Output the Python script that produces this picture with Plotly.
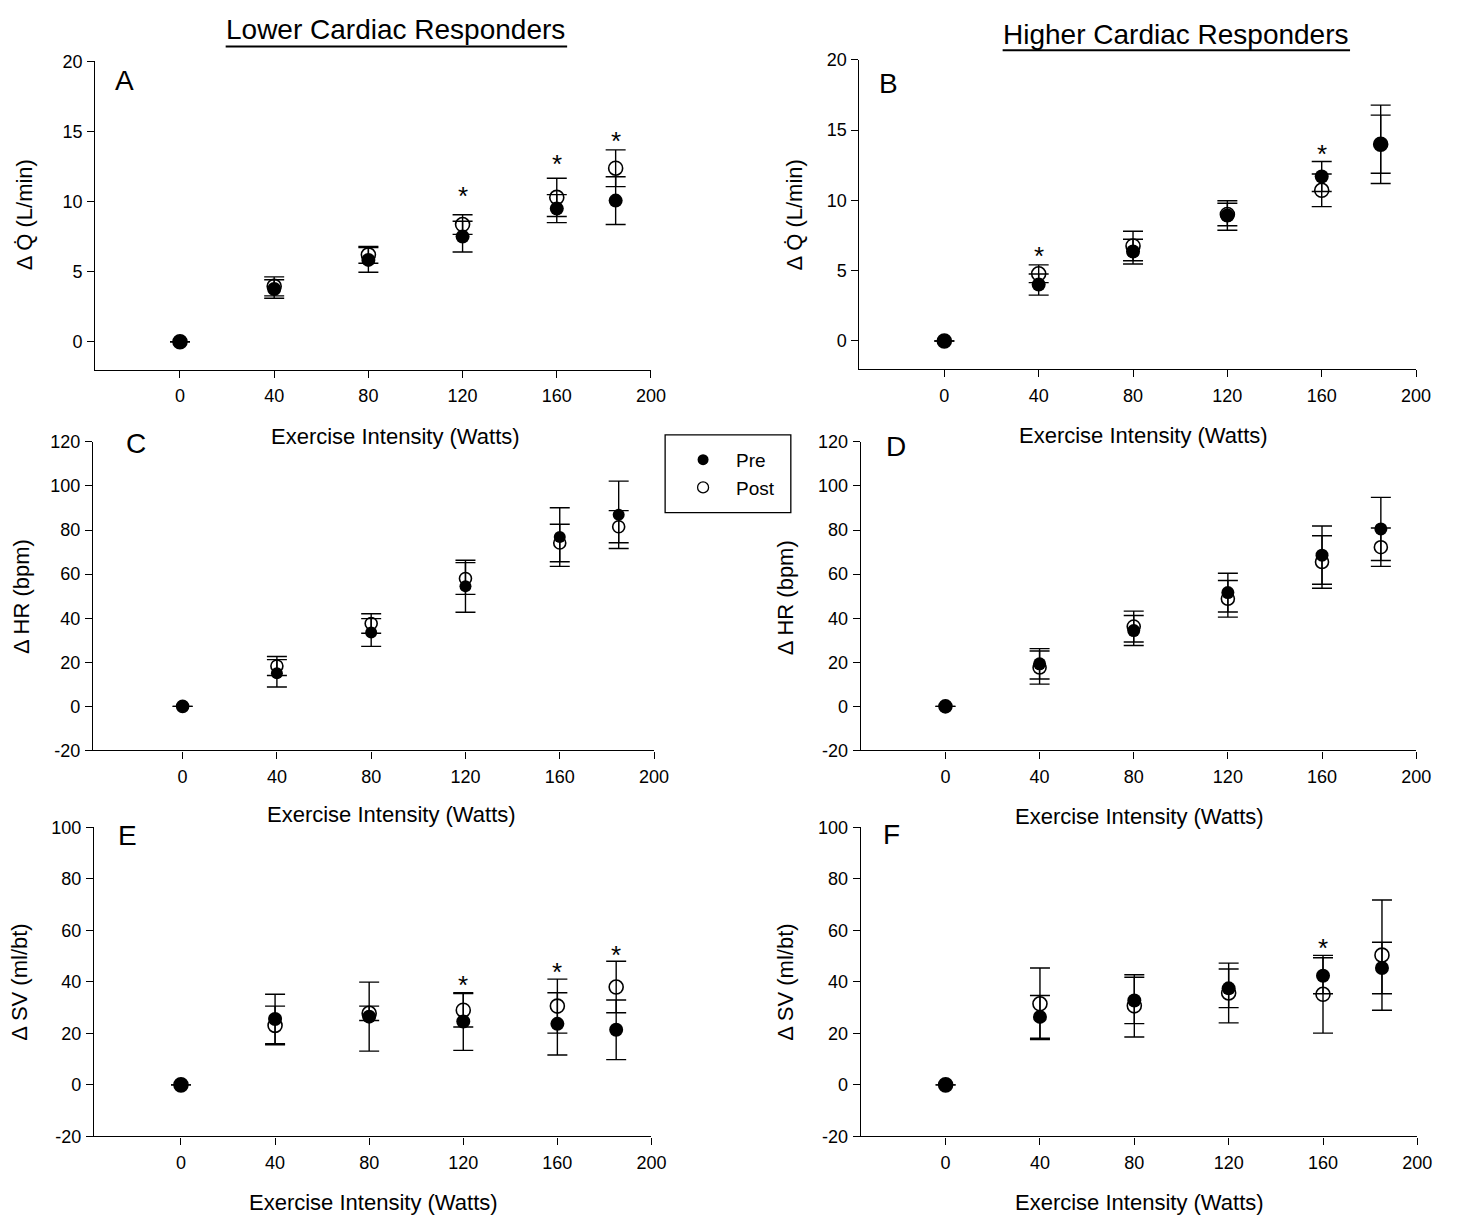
import plotly.graph_objects as go

W, H = 1466, 1228

watts = [0, 40, 80, 120, 160, 185]
x_ticks = [0, 40, 80, 120, 160, 200]

# Panel A - Lower responders, delta Q
qA_pre = [0, 3.76, 5.84, 7.5, 9.5, 10.07]
qA_pre_err = [0, 0.66, 0.88, 1.1, 1.0, 1.7]
qA_post = [0, 3.95, 6.2, 8.36, 10.3, 12.38]
qA_post_err = [0, 0.68, 0.6, 0.7, 1.36, 1.31]

# Panel B - Higher responders, delta Q
qB_pre = [0, 4.01, 6.36, 8.93, 11.7, 13.99]
qB_pre_err = [0, 0.75, 0.88, 1.05, 1.07, 2.79]
qB_post = [0, 4.78, 6.76, 9.0, 10.72, 14.0]
qB_post_err = [0, 0.63, 1.05, 0.8, 1.16, 2.07]

# Panel C - Lower responders, delta HR
hrC_pre = [0, 15.0, 33.5, 54.5, 76.8, 86.9]
hrC_pre_err = [0, 6.2, 6.3, 11.8, 13.3, 15.3]
hrC_post = [0, 18.3, 37.6, 58.0, 74.1, 81.5]
hrC_post_err = [0, 4.3, 4.4, 7.2, 8.5, 7.3]

# Panel D - Higher responders, delta HR
hrD_pre = [0, 19.3, 34.4, 51.6, 68.6, 80.5]
hrD_pre_err = [0, 6.9, 6.8, 8.8, 13.2, 14.3]
hrD_post = [0, 17.6, 36.2, 48.8, 65.5, 72.2]
hrD_post_err = [0, 7.5, 7.0, 8.3, 11.9, 8.7]

# Panel E - Lower responders, delta SV
svE_pre = [0, 25.6, 26.5, 24.6, 23.7, 21.4]
svE_pre_err = [0, 9.6, 13.4, 11.2, 12.1, 11.6]
svE_post = [0, 23.1, 27.8, 29.0, 30.6, 38.0]
svE_post_err = [0, 7.5, 2.8, 6.5, 10.5, 10.0]

# Panel F - Higher responders, delta SV
svF_pre = [0, 26.4, 32.8, 37.5, 42.4, 45.4]
svF_pre_err = [0, 8.3, 9.0, 7.5, 7.0, 10.0]
svF_post = [0, 31.5, 30.7, 35.7, 35.2, 50.4]
svF_post_err = [0, 13.9, 12.1, 11.6, 15.1, 21.4]

# significance asterisks
sigA_x, sigA_y = [120, 160, 185], [10.9, 13.2, 14.8]
sigB_x, sigB_y = [40, 160], [6.53, 13.8]
sigE_x, sigE_y = [120, 160, 185], [41.5, 46.6, 53.2]
sigF_x, sigF_y = [160], [55.8]

q_ticks = [0, 5, 10, 15, 20]
hr_ticks = [-20, 0, 20, 40, 60, 80, 100, 120]
sv_ticks = [-20, 0, 20, 40, 60, 80, 100]

FONT = "Liberation Sans, Arial, sans-serif"


def px(x):
    return x / W


def py(y):
    return 1 - y / H


panels = [
    dict(letter="A", pre=qA_pre, pre_err=qA_pre_err, post=qA_post, post_err=qA_post_err,
         yr=[-2, 20], yt=q_ticks, xr=[-36, 200], box=(96.2, 657.7, 52.3, 365.7), ms=14,
         sig=(sigA_x, sigA_y), ylab="Δ Q̇ (L/min)", ylab_pos=(25, 208),
         xlab_pos=(400, 434), let_pos=(126, 72)),
    dict(letter="B", pre=qB_pre, pre_err=qB_pre_err, post=qB_post, post_err=qB_post_err,
         yr=[-2, 20], yt=q_ticks, xr=[-36, 200], box=(868.3, 1430.7, 50.7, 365.0), ms=14,
         sig=(sigB_x, sigB_y), ylab="Δ Q̇ (L/min)", ylab_pos=(803, 208),
         xlab_pos=(1155, 433), let_pos=(898, 75)),
    dict(letter="C", pre=hrC_pre, pre_err=hrC_pre_err, post=hrC_post, post_err=hrC_post_err,
         yr=[-20, 120], yt=hr_ticks, xr=[-38, 200], box=(94.0, 660.8, 439.0, 752.7), ms=12,
         sig=([], []), ylab="Δ HR (bpm)", ylab_pos=(22, 596),
         xlab_pos=(396, 818), let_pos=(137, 441)),
    dict(letter="D", pre=hrD_pre, pre_err=hrD_pre_err, post=hrD_post, post_err=hrD_post_err,
         yr=[-20, 120], yt=hr_ticks, xr=[-36, 200], box=(869.6, 1430.8, 439.0, 752.7), ms=13,
         sig=([], []), ylab="Δ HR (bpm)", ylab_pos=(793, 597),
         xlab_pos=(1151, 820), let_pos=(905, 444)),
    dict(letter="E", pre=svE_pre, pre_err=svE_pre_err, post=svE_post, post_err=svE_post_err,
         yr=[-20, 100], yt=sv_ticks, xr=[-37, 200], box=(94.9, 658.2, 831.0, 1145.0), ms=14,
         sig=(sigE_x, sigE_y), ylab="Δ SV (ml/bt)", ylab_pos=(20, 988),
         xlab_pos=(377, 1212), let_pos=(129, 839)),
    dict(letter="F", pre=svF_pre, pre_err=svF_pre_err, post=svF_post, post_err=svF_post_err,
         yr=[-20, 100], yt=sv_ticks, xr=[-36, 200], box=(869.6, 1432.0, 831.0, 1145.0), ms=14,
         sig=(sigF_x, sigF_y), ylab="Δ SV (ml/bt)", ylab_pos=(794, 988),
         xlab_pos=(1151, 1212), let_pos=(901, 838)),
]

fig = go.Figure()
annotations = []
shapes = []

for i, p in enumerate(panels):
    n = i + 1
    xa = "x" if n == 1 else f"x{n}"
    ya = "y" if n == 1 else f"y{n}"
    err_style = dict(type="data", symmetric=True, color="black", thickness=1.4, width=10)
    # Post (open circles) first, Pre drawn on top
    fig.add_trace(go.Scatter(
        x=watts, y=p["post"], mode="markers", xaxis=xa, yaxis=ya, showlegend=False,
        marker=dict(symbol="circle-open", size=p["ms"], color="black", line=dict(width=1.6, color="black")),
        error_y=dict(array=p["post_err"], **err_style), cliponaxis=False))
    fig.add_trace(go.Scatter(
        x=watts, y=p["pre"], mode="markers", xaxis=xa, yaxis=ya, showlegend=False,
        marker=dict(symbol="circle", size=p["ms"], color="black"),
        error_y=dict(array=p["pre_err"], **err_style), cliponaxis=False))

    l, r, t, b = p["box"]
    axis_common = dict(showline=True, linecolor="black", linewidth=1.3, ticks="outside",
                       ticklen=7, tickwidth=1.3, tickcolor="black", showgrid=False,
                       zeroline=False, tickfont=dict(family=FONT, size=18, color="black"))
    fig.update_layout(**{
        ("xaxis" if n == 1 else f"xaxis{n}"): dict(
            domain=[px(l), px(r)], range=p["xr"], tickvals=x_ticks,
            ticktext=[str(v) for v in x_ticks], anchor=ya,
            ticklabelstandoff=3, **axis_common),
        ("yaxis" if n == 1 else f"yaxis{n}"): dict(
            domain=[py(b), py(t)], range=p["yr"], tickvals=p["yt"],
            ticktext=[str(v) for v in p["yt"]], anchor=xa,
            ticklabelstandoff=1, **axis_common),
    })

    # asterisks
    for sx, sy in zip(*p["sig"]):
        annotations.append(dict(x=sx, y=sy, xref=xa, yref=ya, text="*", showarrow=False,
                                font=dict(family=FONT, size=26, color="black"), yshift=-7))
    # panel letter
    annotations.append(dict(x=px(p["let_pos"][0]), y=py(p["let_pos"][1]), xref="paper", yref="paper",
                            text=p["letter"], showarrow=False, xanchor="center", yanchor="middle",
                            font=dict(family=FONT, size=28, color="black")))
    # axis titles
    annotations.append(dict(x=px(p["xlab_pos"][0]), y=py(p["xlab_pos"][1]), xref="paper", yref="paper",
                            text="Exercise Intensity (Watts)", showarrow=False, xanchor="center",
                            yanchor="middle", font=dict(family=FONT, size=22, color="black")))
    annotations.append(dict(x=px(p["ylab_pos"][0]), y=py(p["ylab_pos"][1]), xref="paper", yref="paper",
                            text=p["ylab"], showarrow=False, xanchor="center", yanchor="middle",
                            textangle=-90, font=dict(family=FONT, size=22, color="black")))

# column titles
annotations.append(dict(x=px(400), y=py(20), xref="paper", yref="paper", text="Lower Cardiac Responders",
                        showarrow=False, xanchor="center", yanchor="middle",
                        font=dict(family=FONT, size=28, color="black")))
annotations.append(dict(x=px(1188), y=py(25), xref="paper", yref="paper", text="Higher Cardiac Responders",
                        showarrow=False, xanchor="center", yanchor="middle",
                        font=dict(family=FONT, size=28, color="black")))
shapes.append(dict(type="line", xref="paper", yref="paper", x0=px(228), x1=px(573), y0=py(37), y1=py(37),
                   line=dict(color="black", width=2)))
shapes.append(dict(type="line", xref="paper", yref="paper", x0=px(1013), x1=px(1364), y0=py(41), y1=py(41),
                   line=dict(color="black", width=2)))

# legend box
shapes.append(dict(type="rect", xref="paper", yref="paper", x0=px(672), x1=px(799), y0=py(432), y1=py(511),
                   line=dict(color="black", width=1.3), fillcolor="rgba(0,0,0,0)"))

# legend-only entries
fig.add_trace(go.Scatter(x=[None], y=[None], mode="markers", name="Pre",
                         marker=dict(symbol="circle", size=11, color="black")))
fig.add_trace(go.Scatter(x=[None], y=[None], mode="markers", name="Post",
                         marker=dict(symbol="circle-open", size=11, color="black", line=dict(width=1.3))))

fig.update_layout(
    width=W, height=H, margin=dict(l=0, r=0, t=0, b=0),
    paper_bgcolor="white", plot_bgcolor="white",
    annotations=annotations, shapes=shapes,
    showlegend=True, hovermode=False,
    legend=dict(x=px(677), y=py(438), xanchor="left", yanchor="top", bgcolor="rgba(0,0,0,0)",
                borderwidth=0, itemwidth=56, font=dict(family=FONT, size=19, color="black"),
                tracegroupgap=0),
)

fig.write_html("out.html", config={"displayModeBar": False},
               post_script="document.body.style.margin='0px';document.body.style.overflow='hidden';")
